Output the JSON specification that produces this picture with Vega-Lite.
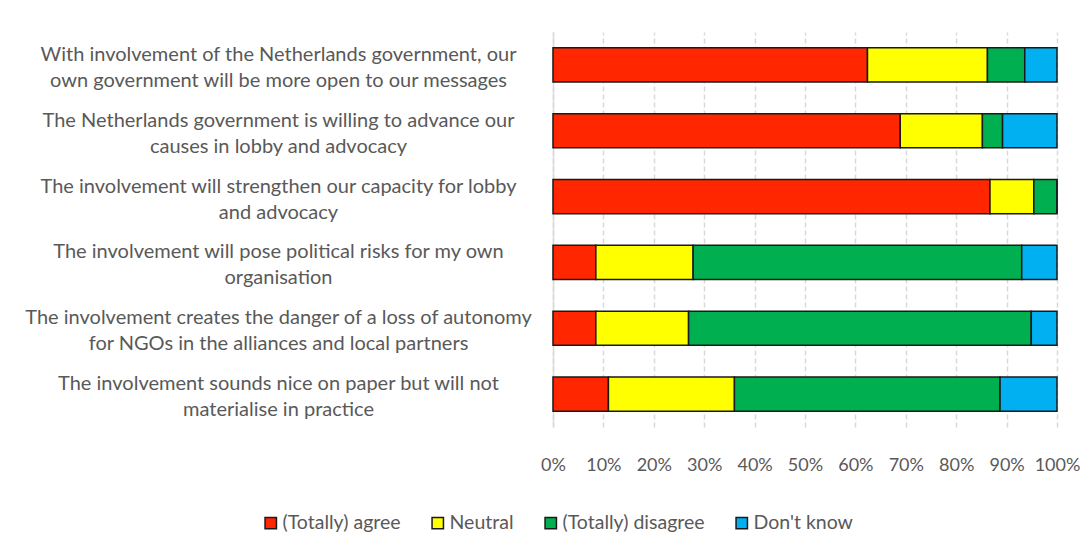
{
  "$schema": "https://vega.github.io/schema/vega-lite/v6.json",
  "width": 504,
  "height": 395,
  "autosize": {"type": "none"},
  "padding": {"left": 553, "top": 32, "right": 27, "bottom": 106},
  "background": "white",
  "config": {"view": {"stroke": null}, "font": "Lato"},
  "data": {
    "values": [
      {"q": "With involvement of the Netherlands government, our|own government will be more open to our messages", "answer": "(Totally) agree", "k": 1, "pct": 62.4},
      {"q": "With involvement of the Netherlands government, our|own government will be more open to our messages", "answer": "Neutral", "k": 2, "pct": 23.8},
      {"q": "With involvement of the Netherlands government, our|own government will be more open to our messages", "answer": "(Totally) disagree", "k": 3, "pct": 7.4},
      {"q": "With involvement of the Netherlands government, our|own government will be more open to our messages", "answer": "Don't know", "k": 4, "pct": 6.4},
      {"q": "The Netherlands government is willing to advance our|causes in lobby and advocacy", "answer": "(Totally) agree", "k": 1, "pct": 68.9},
      {"q": "The Netherlands government is willing to advance our|causes in lobby and advocacy", "answer": "Neutral", "k": 2, "pct": 16.3},
      {"q": "The Netherlands government is willing to advance our|causes in lobby and advocacy", "answer": "(Totally) disagree", "k": 3, "pct": 4.0},
      {"q": "The Netherlands government is willing to advance our|causes in lobby and advocacy", "answer": "Don't know", "k": 4, "pct": 10.8},
      {"q": "The involvement will strengthen our capacity for lobby|and advocacy", "answer": "(Totally) agree", "k": 1, "pct": 86.7},
      {"q": "The involvement will strengthen our capacity for lobby|and advocacy", "answer": "Neutral", "k": 2, "pct": 8.7},
      {"q": "The involvement will strengthen our capacity for lobby|and advocacy", "answer": "(Totally) disagree", "k": 3, "pct": 4.6},
      {"q": "The involvement will strengthen our capacity for lobby|and advocacy", "answer": "Don't know", "k": 4, "pct": 0},
      {"q": "The involvement will pose political risks for my own|organisation", "answer": "(Totally) agree", "k": 1, "pct": 8.5},
      {"q": "The involvement will pose political risks for my own|organisation", "answer": "Neutral", "k": 2, "pct": 19.3},
      {"q": "The involvement will pose political risks for my own|organisation", "answer": "(Totally) disagree", "k": 3, "pct": 65.2},
      {"q": "The involvement will pose political risks for my own|organisation", "answer": "Don't know", "k": 4, "pct": 7.0},
      {"q": "The involvement creates the danger of a loss of autonomy|for NGOs in the alliances and local partners", "answer": "(Totally) agree", "k": 1, "pct": 8.5},
      {"q": "The involvement creates the danger of a loss of autonomy|for NGOs in the alliances and local partners", "answer": "Neutral", "k": 2, "pct": 18.4},
      {"q": "The involvement creates the danger of a loss of autonomy|for NGOs in the alliances and local partners", "answer": "(Totally) disagree", "k": 3, "pct": 68.0},
      {"q": "The involvement creates the danger of a loss of autonomy|for NGOs in the alliances and local partners", "answer": "Don't know", "k": 4, "pct": 5.1},
      {"q": "The involvement sounds nice on paper but will not|materialise in practice", "answer": "(Totally) agree", "k": 1, "pct": 11.0},
      {"q": "The involvement sounds nice on paper but will not|materialise in practice", "answer": "Neutral", "k": 2, "pct": 25.0},
      {"q": "The involvement sounds nice on paper but will not|materialise in practice", "answer": "(Totally) disagree", "k": 3, "pct": 52.7},
      {"q": "The involvement sounds nice on paper but will not|materialise in practice", "answer": "Don't know", "k": 4, "pct": 11.3}
    ]
  },
  "mark": {"type": "bar", "stroke": "#1a1a1a", "strokeWidth": 1.5},
  "encoding": {
    "y": {
      "field": "q",
      "type": "nominal",
      "sort": null,
      "title": null,
      "scale": {"paddingInner": 0.48, "paddingOuter": 0.24},
      "axis": {
        "labelExpr": "split(datum.label, '|')",
        "labelAlign": "center",
        "labelPadding": 275,
        "labelOffset": -10,
        "labelLimit": 0,
        "labelFontSize": 20,
        "labelLineHeight": 26,
        "labelColor": "#595959",
        "ticks": false,
        "domain": true,
        "domainColor": "#d9d9d9",
        "domainWidth": 1.5
      }
    },
    "x": {
      "field": "pct",
      "type": "quantitative",
      "stack": "zero",
      "title": null,
      "scale": {"domain": [0, 100], "nice": false},
      "axis": {
        "values": [0, 10, 20, 30, 40, 50, 60, 70, 80, 90, 100],
        "labelExpr": "datum.value + '%'",
        "labelFontSize": 18,
        "labelColor": "#595959",
        "labelPadding": 29,
        "ticks": false,
        "domain": false,
        "grid": true,
        "gridColor": "#d9d9d9",
        "gridDash": [5, 3],
        "gridWidth": 1.5,
        "labelFlush": false
      }
    },
    "color": {
      "field": "answer",
      "type": "nominal",
      "sort": ["(Totally) agree", "Neutral", "(Totally) disagree", "Don't know"],
      "scale": {
        "domain": ["(Totally) agree", "Neutral", "(Totally) disagree", "Don't know"],
        "range": ["#FF2600", "#FFFF00", "#00B050", "#00B0F0"]
      },
      "legend": {
        "title": null,
        "orient": "none",
        "direction": "horizontal",
        "legendX": -292,
        "legendY": 481,
        "symbolType": "square",
        "symbolSize": 130,
        "symbolStrokeColor": "#1a1a1a",
        "symbolStrokeWidth": 1.5,
        "labelFontSize": 19.5,
        "labelColor": "#595959",
        "labelOffset": 2,
        "columnPadding": 27,
        "symbolOffset": 0
      }
    },
    "order": {"field": "k", "type": "quantitative"}
  }
}
